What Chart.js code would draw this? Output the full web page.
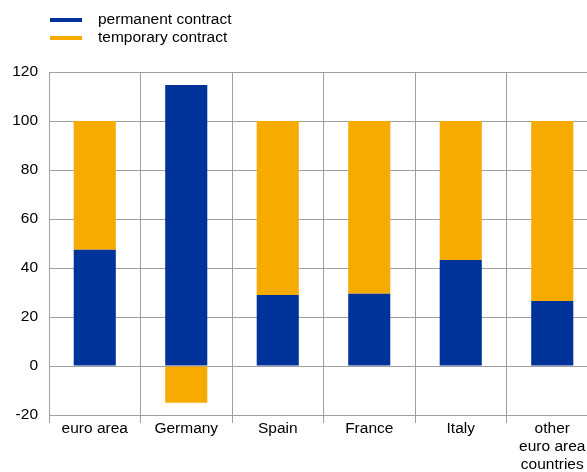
<!DOCTYPE html>
<html>
<head>
<meta charset="utf-8">
<script src="https://cdn.jsdelivr.net/npm/chart.js@4"></script>
<style>
    html, body { margin: 0; padding: 0; background: #fff; overflow: hidden; }
    #wrap { position: absolute; left: 0; top: 0; width: 598px; height: 472px; }
    .legend { position: absolute; left: 50px; font: 15.5px "Liberation Sans", Arial, sans-serif; color: #000; }
    .legend div { position: relative; height: 18px; line-height: 18px; padding-left: 48px; }
    .legend span { position: absolute; left: 0; top: 8px; width: 32px; height: 4px; }
</style>
</head>
<body>
<div id="wrap"><canvas id="chart"></canvas></div>
<div class="legend" style="top:10px">
    <div><span style="background:#003399"></span>permanent contract</div>
    <div><span style="background:#f7aa00"></span>temporary contract</div>
</div>
<script>
const categories = ['euro area', 'Germany', 'Spain', 'France', 'Italy', ['other', 'euro area', 'countries']];
const permanent = [47.5, 114.7, 29, 29.5, 43.3, 26.5];
const temporary = [52.5, -15, 71, 70.5, 56.7, 73.5];
const yMin = -20;
const yMax = 120;

document.addEventListener('DOMContentLoaded', function () {
    const ctx = document.getElementById('chart').getContext('2d');
    new Chart(ctx, {
        type: 'bar',
        data: {
            labels: categories,
            datasets: [{
                label: 'permanent contract',
                data: permanent,
                backgroundColor: '#003399',
                barPercentage: 0.46,
                categoryPercentage: 1
            }, {
                label: 'temporary contract',
                data: temporary,
                backgroundColor: '#f7aa00',
                barPercentage: 0.46,
                categoryPercentage: 1
            }]
        },
        options: {
            responsive: true,
            maintainAspectRatio: false,
            animation: false,
            layout: { padding: { top: 72, right: 0, left: 0, bottom: 0 } },
            plugins: {
                legend: { display: false },
                tooltip: { enabled: false }
            },
            scales: {
                x: {
                    stacked: true,
                    afterFit: function (scale) { scale.height = 57; },
                    grid: { color: '#a0a0a0', tickLength: 8, offset: true },
                    border: { color: '#a0a0a0' },
                    ticks: {
                        color: '#000',
                        padding: -3,
                        maxRotation: 0,
                        autoSkip: false,
                        font: { family: 'Liberation Sans', size: 15.5, lineHeight: 1.15 }
                    }
                },
                y: {
                    stacked: true,
                    min: yMin,
                    max: yMax,
                    afterFit: function (scale) { scale.width = 49; },
                    grid: { color: '#a0a0a0', drawTicks: false },
                    border: { color: '#a0a0a0' },
                    ticks: {
                        stepSize: 20,
                        color: '#000',
                        padding: 11,
                        font: { family: 'Liberation Sans', size: 15.5 }
                    }
                }
            }
        }
    });
});
</script>
</body>
</html>
